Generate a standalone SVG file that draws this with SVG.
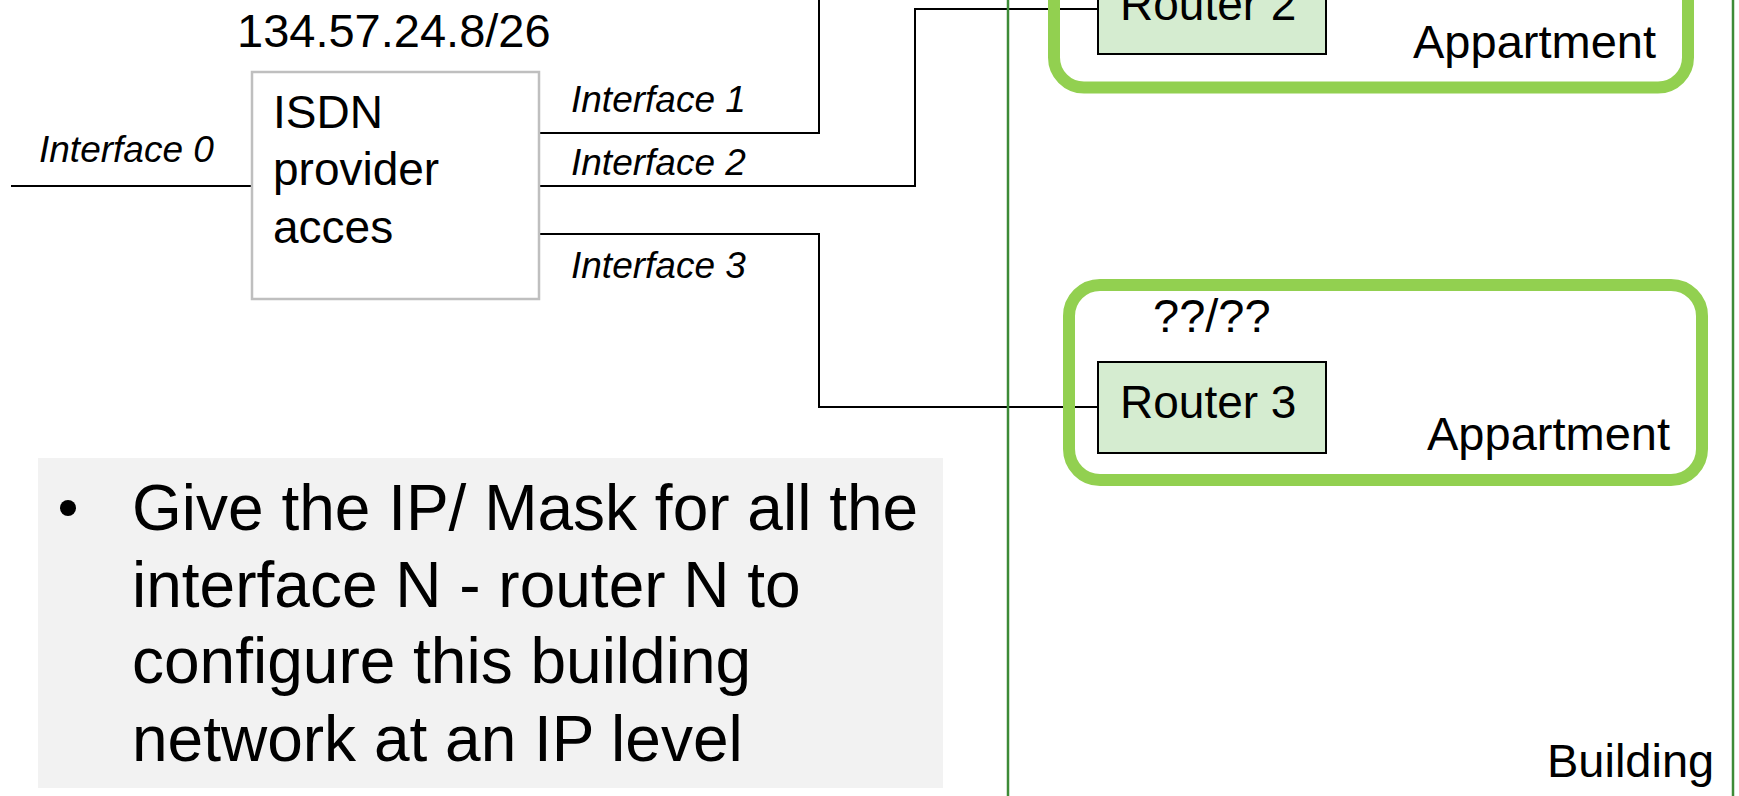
<svg xmlns="http://www.w3.org/2000/svg" width="1739" height="796" viewBox="0 0 1739 796">
<style>
text{font-family:"Liberation Sans",Arial,sans-serif;fill:#000}
.lbl{font-size:47px}
.itf{font-size:37px;font-style:italic}
.conn{fill:none;stroke:#000;stroke-width:2}
.router{fill:#d5ecd0;stroke:#000;stroke-width:2}
.apt{fill:none;stroke:#92d050;stroke-width:12}
.bld{fill:none;stroke:#3d8b37;stroke-width:2.5}
</style>
<rect width="1739" height="796" fill="#fff"/>

<g id="connectors">
  <polyline class="conn" points="11,186 252,186"/>
  <polyline class="conn" points="539,133 819,133 819,-5"/>
  <polyline class="conn" points="539,186 915,186 915,9 1098,9"/>
  <polyline class="conn" points="539,234 819,234 819,407 1098,407"/>
</g>

<g id="building">
  <rect class="bld" x="1008" y="-20" width="725" height="840"/>
  <text class="lbl" x="1547" y="777">Building</text>
</g>

<g id="apartment2">
  <rect class="apt" x="1054" y="-200" width="634" height="287.5" rx="30"/>
  <text class="lbl" x="1413" y="58">Appartment</text>
</g>

<g id="apartment3">
  <rect class="apt" x="1069" y="285" width="633" height="195" rx="31"/>
  <text class="lbl" x="1427" y="450">Appartment</text>
  <text class="lbl" x="1153" y="332" font-size="46">??/??</text>
</g>

<g id="router2">
  <rect class="router" x="1098" y="-37" width="228" height="91"/>
  <text class="lbl" x="1120" y="20" style="font-size:46px">Router 2</text>
</g>

<g id="router3">
  <rect class="router" x="1098" y="362" width="228" height="91"/>
  <text class="lbl" x="1120" y="418" style="font-size:46px">Router 3</text>
</g>

<g id="isdn">
  <text class="lbl" x="237" y="47">134.57.24.8/26</text>
  <rect x="252" y="72" width="287" height="227" fill="#fff" stroke="#bfbfbf" stroke-width="2.5"/>
  <text style="font-size:46px" x="273" y="128">ISDN</text>
  <text style="font-size:46px" x="273" y="185">provider</text>
  <text style="font-size:46px" x="273" y="243">acces</text>
</g>

<g id="labels">
  <text class="itf" x="39" y="162">Interface 0</text>
  <text class="itf" x="571" y="112">Interface 1</text>
  <text class="itf" x="571" y="175">Interface 2</text>
  <text class="itf" x="571" y="278">Interface 3</text>
</g>

<g id="question">
  <rect x="38" y="458" width="905" height="330" fill="#f2f2f2"/>
  <circle cx="68" cy="508" r="8" fill="#000"/>
  <text style="font-size:64px" x="132" y="530">Give the IP/ Mask for all the</text>
  <text style="font-size:64px" x="132" y="607">interface N - router N to</text>
  <text style="font-size:64px" x="132" y="683">configure this building</text>
  <text style="font-size:64px" x="132" y="761">network at an IP level</text>
</g>
</svg>
